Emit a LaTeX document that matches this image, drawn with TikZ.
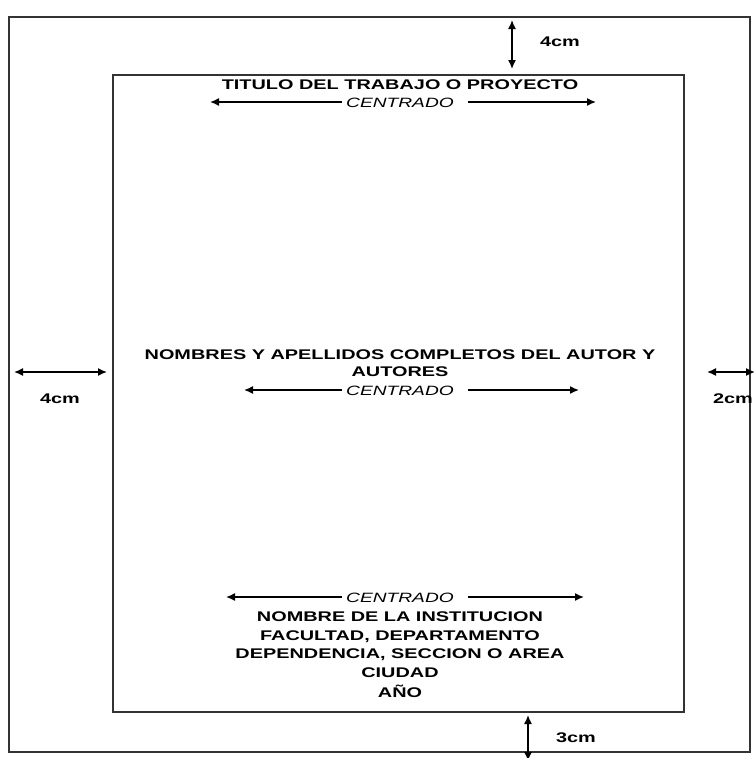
\documentclass[tikz,border=0pt]{standalone}
\usepackage{fontspec}
\setmainfont[FakeStretch=1.42]{Liberation Sans}
\usetikzlibrary{arrows.meta}

\tikzset{
    rotulo/.style={font=\fontsize{14}{17}\selectfont\bfseries, anchor=base},
    centr/.style={font=\fontsize{13.5}{17}\selectfont\itshape, anchor=base},
    hoja/.style={line width=1.6pt, black!80},
}

\begin{document}
\begin{tikzpicture}[
            x=1pt, y=-1pt, line width=1.5pt, >={Latex[length=9pt,width=8pt]}
        ]
            \useasboundingbox (0,0) rectangle (754,758);

            % hoja y margen
            \draw[hoja] (9,17) rectangle (750,752);
            \draw[hoja] (113,75) rectangle (684,712);

            % margen superior
            \coordinate(sup1) at (512,20);
            \coordinate(sup2) at (512,69);
            \draw[<->] (sup1) -- (sup2);
            \node[rotulo](lsup) at (560,46) {4cm};

            % margen izquierdo
            \coordinate(izq1) at (14,372);
            \coordinate(izq2) at (107,372);
            \draw[<->] (izq1) -- (izq2);
            \node[rotulo](lizq) at (60,403) {4cm};

            % margen derecho
            \coordinate(der1) at (707,372);
            \coordinate(der2) at (755,372);
            \draw[<->] (der1) -- (der2);
            \node[rotulo](lder) at (733,403) {2cm};

            % margen inferior
            \coordinate(inf1) at (528,715);
            \coordinate(inf2) at (528,761);
            \draw[<->] (inf1) -- (inf2);
            \node[rotulo](linf) at (576,742) {3cm};

            % titulo
            \node[rotulo](titulo) at (400,89) {TITULO DEL TRABAJO O PROYECTO};
            \node[centr](c1) at (400,107) {CENTRADO};
            \coordinate(c1i) at (210,102);
            \coordinate(c1d) at (596,102);
            \draw[->] (c1.west |- c1i) -- (c1i);
            \draw[->] ([xshift=10pt]c1.east |- c1d) -- (c1d);

            % autores
            \node[rotulo](autor1) at (400,359) {NOMBRES Y APELLIDOS COMPLETOS DEL AUTOR Y};
            \node[rotulo](autor2) at (400,376) {AUTORES};
            \node[centr](c2) at (400,395) {CENTRADO};
            \coordinate(c2i) at (244,390);
            \coordinate(c2d) at (579,390);
            \draw[->] (c2.west |- c2i) -- (c2i);
            \draw[->] ([xshift=10pt]c2.east |- c2d) -- (c2d);

            % institucion
            \node[centr](c3) at (400,602) {CENTRADO};
            \coordinate(c3i) at (226,597);
            \coordinate(c3d) at (584,597);
            \draw[->] (c3.west |- c3i) -- (c3i);
            \draw[->] ([xshift=10pt]c3.east |- c3d) -- (c3d);
            \node[rotulo](inst) at (400,621) {NOMBRE DE LA INSTITUCION};
            \node[rotulo](fac) at (400,640) {FACULTAD, DEPARTAMENTO};
            \node[rotulo](dep) at (400,658) {DEPENDENCIA, SECCION O AREA};
            \node[rotulo](ciudad) at (400,677) {CIUDAD};
            \node[rotulo](anio) at (400,697) {AÑO};

        \end{tikzpicture}
\end{document}
